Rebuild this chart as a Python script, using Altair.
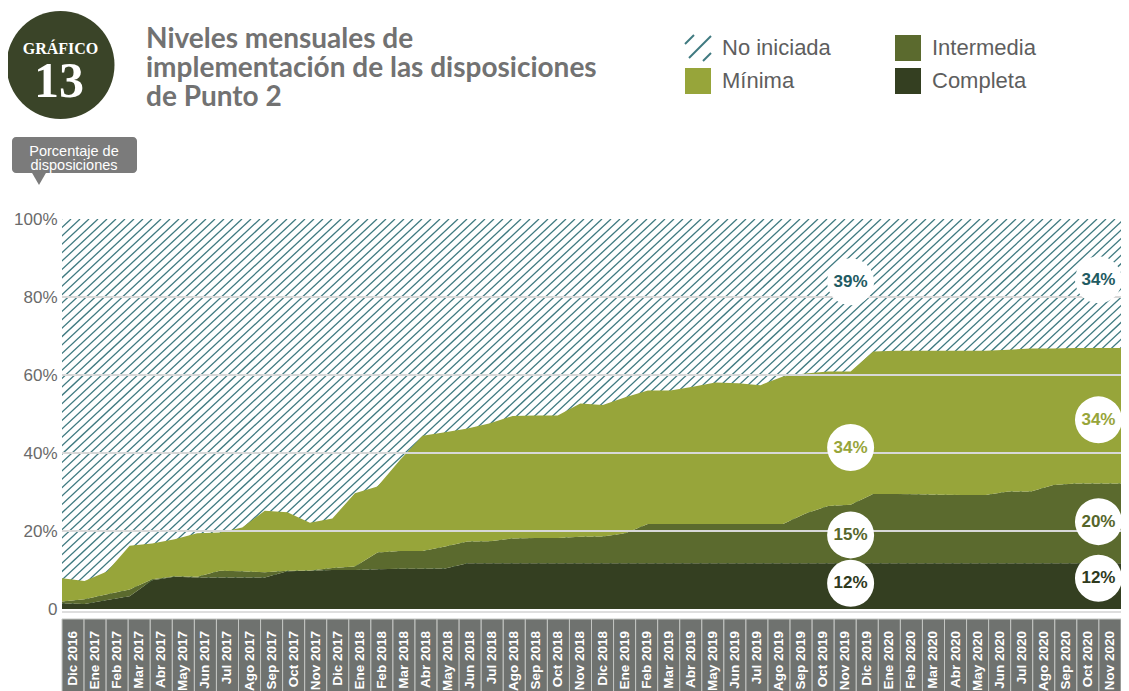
import altair as alt
import pandas as pd
import numpy as np

# ---------------- data ----------------
months = [
    "Dic 2016", "Ene 2017", "Feb 2017", "Mar 2017", "Abr 2017", "May 2017", "Jun 2017",
    "Jul 2017", "Ago 2017", "Sep 2017", "Oct 2017", "Nov 2017", "Dic 2017", "Ene 2018",
    "Feb 2018", "Mar 2018", "Abr 2018", "May 2018", "Jun 2018", "Jul 2018", "Ago 2018",
    "Sep 2018", "Oct 2018", "Nov 2018", "Dic 2018", "Ene 2019", "Feb 2019", "Mar 2019",
    "Abr 2019", "May 2019", "Jun 2019", "Jul 2019", "Ago 2019", "Sep 2019", "Oct 2019",
    "Nov 2019", "Dic 2019", "Ene 2020", "Feb 2020", "Mar 2020", "Abr 2020", "May 2020",
    "Jun 2020", "Jul 2020", "Ago 2020", "Sep 2020", "Oct 2020", "Nov 2020",
]
completa = [1.5, 1.3, 2.3, 3.3, 7.4, 8.3, 8.1, 8.1, 8.1, 8.1, 9.7, 9.8, 10.0, 10.0,
            10.2, 10.3, 10.3, 10.4, 11.7, 11.7, 11.7, 11.7, 11.7, 11.7, 11.7, 11.7,
            11.7, 11.7, 11.7, 11.7, 11.7, 11.7, 11.7, 11.7, 11.7, 11.7, 11.7, 11.7,
            11.7, 11.7, 11.7, 11.7, 11.7, 11.7, 11.7, 11.7, 11.7, 11.7]
intermedia = [0.4, 1.2, 1.5, 1.7, 0.2, 0.1, 0.2, 1.7, 1.6, 1.3, 0.1, 0.1, 0.5, 0.9,
              4.3, 4.6, 4.6, 5.6, 5.6, 5.7, 6.4, 6.5, 6.5, 6.8, 6.9, 7.7, 10.1, 10.1,
              10.1, 10.1, 10.1, 10.1, 10.1, 12.8, 14.7, 15.0, 17.8, 17.8, 17.7, 17.6,
              17.5, 17.5, 18.4, 18.4, 20.1, 20.5, 20.5, 20.5]
minima = [6.0, 4.7, 5.8, 11.2, 9.2, 9.5, 11.1, 9.8, 11.2, 15.8, 15.0, 12.2, 12.7, 18.8,
          16.9, 23.3, 29.5, 29.3, 29.0, 30.2, 31.4, 31.4, 31.4, 34.2, 33.7, 34.9, 34.2,
          34.2, 35.2, 36.3, 36.1, 35.6, 37.8, 35.9, 34.5, 34.2, 36.5, 36.7, 36.8, 36.9,
          37.0, 37.0, 36.4, 36.7, 35.0, 34.7, 34.7, 34.7]

series_names = ["Completa", "Intermedia", "Mínima"]
legend_names = ["No iniciada", "Mínima", "Intermedia", "Completa"]

# annotation circles (month position, percent position, label, series)
ann_x = [35, 35, 35, 35, 46, 46, 46, 46]
ann_y = [83.9, 41.4, 19.0, 6.6, 84.4, 48.5, 22.4, 7.9]
ann_text = ["39%", "34%", "15%", "12%", "34%", "34%", "20%", "12%"]
ann_series = ["No iniciada", "Mínima", "Intermedia", "Completa",
              "No iniciada", "Mínima", "Intermedia", "Completa"]

grid_values = [20, 40, 60, 80]
y_ticks = [0, 20, 40, 60, 80, 100]

title_lines = ["Niveles mensuales de", "implementación de las disposiciones", "de Punto 2"]
badge_word = "GRÁFICO"
badge_num = "13"
callout_lines = ["Porcentaje de", "disposiciones"]

# ---------------- styles ----------------
fill_colors = {"No iniciada": "rgba(255,255,255,0)", "Mínima": "#97a53a",
               "Intermedia": "#5b6a2e", "Completa": "#343f21"}
text_colors = {"No iniciada": "#1f5b62", "Mínima": "#97a53a", "Intermedia": "#56662b", "Completa": "#2f3a1d"}
HATCH = "#3f7a80"
W, H = 1059, 390

# ---------------- tables ----------------
rows = []
for i, m in enumerate(months):
    for k, (name, arr) in enumerate(zip(series_names, [completa, intermedia, minima])):
        rows.append({"i": i, "mes": m, "serie": name, "v": arr[i], "ord": k})
df = pd.DataFrame(rows)

# diagonal hatch background (decoration)
step = 9 * 47 / W
dx = (H / np.tan(np.radians(43))) * 47 / W
starts = np.arange(-dx - step, 47 + step, step)
hatch_df = pd.DataFrame({"hx": starts, "hx2": starts + dx, "hy": 0.0, "hy2": 100.0})

ann_df = pd.DataFrame({"ax": ann_x, "ay": ann_y, "t": ann_text, "s": ann_series})
ann_df["c"] = ann_df["s"].map(text_colors)
grid_df = pd.DataFrame({"g": grid_values})
cells_df = pd.DataFrame({"mes": months})

xscale = alt.Scale(domain=[0, 47], nice=False, zero=False)
yscale = alt.Scale(domain=[0, 100], nice=False, zero=True)
y_axis = alt.Axis(values=y_ticks, labelExpr="datum.value == 0 ? '0' : datum.value + '%'",
                  domain=False, ticks=False, grid=False, labelFontSize=17,
                  labelFont="Liberation Sans", labelColor="#6a6a6a", labelPadding=5, title=None)

hatch = alt.Chart(hatch_df).mark_rule(clip=True, color=HATCH, strokeWidth=1.3).encode(
    x=alt.X("hx:Q", scale=xscale, axis=None), x2="hx2:Q",
    y=alt.Y("hy:Q", scale=yscale, axis=y_axis), y2="hy2:Q")

areas = alt.Chart(df).mark_area(opacity=1, interpolate="linear").encode(
    x=alt.X("i:Q", scale=xscale, axis=None),
    y=alt.Y("v:Q", stack="zero", scale=yscale, axis=y_axis),
    color=alt.Color("serie:N",
                    scale=alt.Scale(domain=legend_names, range=[fill_colors[n] for n in legend_names]),
                    legend=alt.Legend(orient="none", legendX=623, legendY=-184, columns=2,
                                      symbolType="square", symbolSize=676, symbolStrokeWidth=0,
                                      symbolOpacity=1, labelFontSize=22, labelFont="Liberation Sans",
                                      labelColor="#5e5e5e", labelOffset=11, rowPadding=7,
                                      columnPadding=64, padding=0, title=None)),
    order=alt.Order("ord:Q"))

grid = alt.Chart(grid_df).mark_rule(color="#d8d8d8", strokeWidth=2).encode(
    y=alt.Y("g:Q", scale=yscale, axis=y_axis), x=alt.value(0), x2=alt.value(W))
zero = alt.Chart(pd.DataFrame({"g": [0]})).mark_rule(color="#dedede", strokeWidth=2, yOffset=3).encode(
    y=alt.Y("g:Q", scale=yscale, axis=y_axis), x=alt.value(0), x2=alt.value(W))

circles = alt.Chart(ann_df).mark_circle(size=2209, color="white", opacity=1).encode(
    x=alt.X("ax:Q", scale=xscale, axis=None), y=alt.Y("ay:Q", scale=yscale, axis=y_axis))
ann_text_layer = alt.Chart(ann_df).mark_text(font="Liberation Sans", fontWeight="bold", fontSize=17,
                                              baseline="middle", align="center").encode(
    x=alt.X("ax:Q", scale=xscale, axis=None), y=alt.Y("ay:Q", scale=yscale, axis=y_axis),
    text="t:N", color=alt.Color("c:N", scale=None))

xband = alt.X("mes:N", sort=months, scale=alt.Scale(paddingInner=0, paddingOuter=0), axis=None)
cells = alt.Chart(cells_df).mark_rect(fill="#6f726f", stroke="#c3c5c2", strokeWidth=1).encode(
    x=xband, y=alt.value(400), y2=alt.value(480))
cell_text = alt.Chart(cells_df).mark_text(angle=270, align="right", baseline="middle", color="white",
                                          font="Liberation Sans", fontWeight="bold", fontSize=13.5).encode(
    x=alt.X("mes:N", sort=months, scale=alt.Scale(padding=0.5), axis=None),
    y=alt.value(412), text="mes:N")

# header decorations
one = pd.DataFrame({"k": [0]})
badge = alt.Chart(one).mark_circle(size=11664, color="#3a4428", opacity=1).encode(
    x=alt.value(-1.5), y=alt.value(-154))
badge_t1 = alt.Chart(pd.DataFrame({"t": [badge_word]})).mark_text(
    font="Liberation Serif", fontWeight="bold", fontSize=16, color="white", align="center",
    baseline="alphabetic").encode(x=alt.value(-1.5), y=alt.value(-165), text="t:N")
badge_t2 = alt.Chart(pd.DataFrame({"t": [badge_num]})).mark_text(
    font="Liberation Serif", fontWeight="bold", fontSize=50, color="white", align="center",
    baseline="alphabetic").encode(x=alt.value(-3), y=alt.value(-122), text="t:N")

title_layers = []
for j, line in enumerate(title_lines):
    title_layers.append(alt.Chart(pd.DataFrame({"t": [line]})).mark_text(
        font="Lato", fontWeight="bold", fontSize=28, color="#727272", align="left",
        baseline="alphabetic").encode(x=alt.value(84), y=alt.value(-171 + 29 * j), text="t:N"))

callout_box = alt.Chart(one).mark_rect(color="#7b7b7b", cornerRadius=4).encode(
    x=alt.value(-50), x2=alt.value(75), y=alt.value(-82), y2=alt.value(-46))
callout_tri = alt.Chart(one).mark_point(shape="triangle-down", filled=True, size=260, color="#7b7b7b",
                                         opacity=1).encode(x=alt.value(-23), y=alt.value(-41))
callout_text = []
for j, line in enumerate(callout_lines):
    callout_text.append(alt.Chart(pd.DataFrame({"t": [line]})).mark_text(
        font="Liberation Sans", fontSize=14.5, color="white", align="center", baseline="middle").encode(
        x=alt.value(12), y=alt.value(-67.5 + 14.5 * j), text="t:N"))

# hatch icon in legend
icon_layers = []
for (a, b, c, d) in [(623, -175, 632, -184), (627, -161, 649, -183), (641, -158, 649, -166)]:
    icon_layers.append(alt.Chart(one).mark_rule(color=HATCH, strokeWidth=2).encode(
        x=alt.value(a), y=alt.value(b), x2=alt.value(c), y2=alt.value(d)))

chart = alt.layer(
    hatch, areas, grid, zero, circles, ann_text_layer, cells, cell_text,
    badge, badge_t1, badge_t2, *title_layers, callout_box, callout_tri, *callout_text, *icon_layers
).resolve_scale(x="independent").properties(
    width=W, height=H,
    autosize=alt.AutoSizeParams(type="none"),
    padding={"left": 54, "top": 211, "right": 0, "bottom": 82},
    background="white",
).configure_view(stroke=None)

chart.save("out.html", embed_options={"renderer": "svg", "actions": False})
